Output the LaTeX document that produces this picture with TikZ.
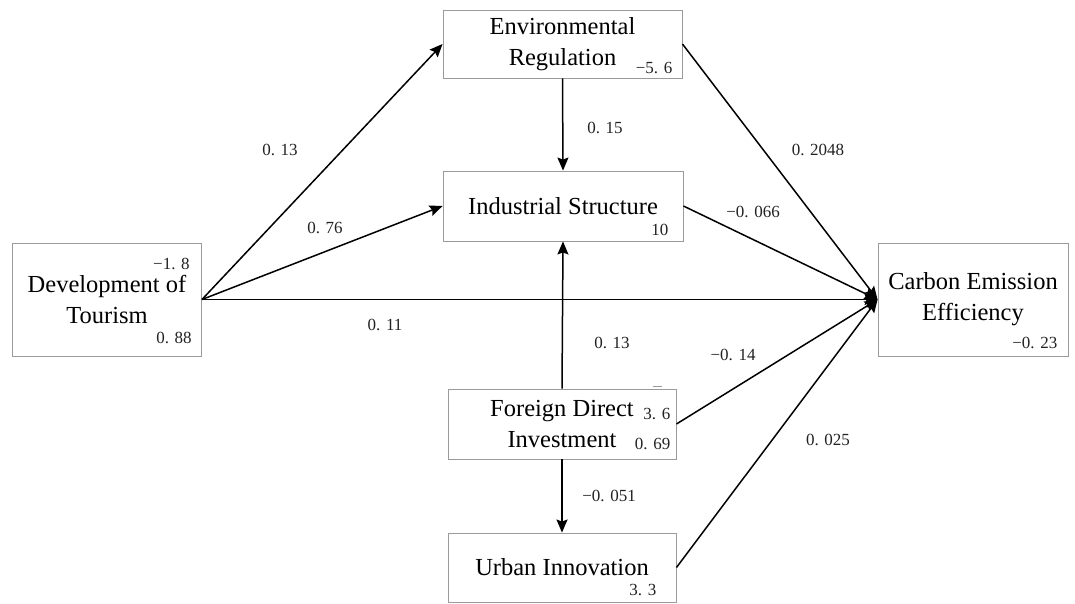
\documentclass[tikz,border=0pt]{standalone}
\usepackage{fontspec}
\setmainfont{Liberation Serif}
\usetikzlibrary{arrows.meta}
\definecolor{boxgray}{HTML}{9A9A9A}
\definecolor{ink}{HTML}{222222}

\begin{document}
\begin{tikzpicture}[x=1pt,y=-1pt,>={Stealth[length=13pt,width=11pt,inset=2pt]},
  var/.style={draw=boxgray,line width=0.9pt,align=center,inner sep=0pt,font=\fontsize{24.5}{31}\selectfont},
  coef/.style={text=ink,inner sep=0pt,font=\fontsize{17}{19}\selectfont},
  link/.style={->,line width=1.5pt}]
\useasboundingbox (0,0) rectangle (1075,604);
% variables
\node[var,minimum width=239,minimum height=68] (er) at (562.5,44) {Environmental\\Regulation};
\node[var,minimum width=240,minimum height=70] (is) at (563,206) {Industrial Structure};
\node[var,minimum width=189,minimum height=113] (dt) at (107,299.5) {Development of\\Tourism};
\node[var,minimum width=190,minimum height=113] (cee) at (973,299.5) {Carbon Emission\\Efficiency};
\node[var,minimum width=228,minimum height=70] (fdi) at (562,424) {Foreign Direct\\Investment};
\node[var,minimum width=228,minimum height=69] (ui) at (562,567.5) {Urban Innovation};
% values inside the boxes
\node[coef,anchor=south east] (er-v) at ([shift={(-10,-5)}]er.south east) {−5. 6};
\node[coef,anchor=south east] (is-v) at ([shift={(-15,-6)}]is.south east) {10};
\node[coef,anchor=north east] (dt-a) at ([shift={(-12,15)}]dt.north east) {−1. 8};
\node[coef,anchor=south east] (dt-b) at ([shift={(-10,-13)}]dt.south east) {0. 88};
\node[coef,anchor=south east] (cee-v) at ([shift={(-11,-8)}]cee.south east) {−0. 23};
\node[coef,anchor=south east] (fdi-a) at ([shift={(-6,-4)}]fdi.east) {3. 6};
\node[coef,anchor=south east] (fdi-b) at ([shift={(-6,26)}]fdi.east) {0. 69};
\node[coef,anchor=south east] (ui-v) at ([shift={(-20,-7)}]ui.south east) {3. 3};
\draw[boxgray,line width=0.9pt] (653,386) -- (662,386);
% paths
\draw[link] (dt.east) -- (er.west);
\draw[link] (dt.east) -- (is.west);
\draw[link] (dt.east) -- (cee.west);
\draw[link] (er.south) -- (is.north);
\draw[link] (fdi.north) -- (is.south);
\draw[link] (fdi.south) -- (ui.north);
\foreach \n in {er,is,fdi,ui} \draw[link] (\n.east) -- (cee.west);
% coefficients
\foreach \p/\l/\n in {(280,150)/{0. 13}/c1,(325,228)/{0. 76}/c2,(385,325)/{0. 11}/c3,
  (605,128)/{0. 15}/c4,(818,150)/{0. 2048}/c5,(753,212)/{−0. 066}/c6,
  (612,343)/{0. 13}/c7,(733,355)/{−0. 14}/c8,(828,440)/{0. 025}/c9,(609,496)/{−0. 051}/c10}
  \node[coef] (\n) at \p {\l};
\end{tikzpicture}
\end{document}
